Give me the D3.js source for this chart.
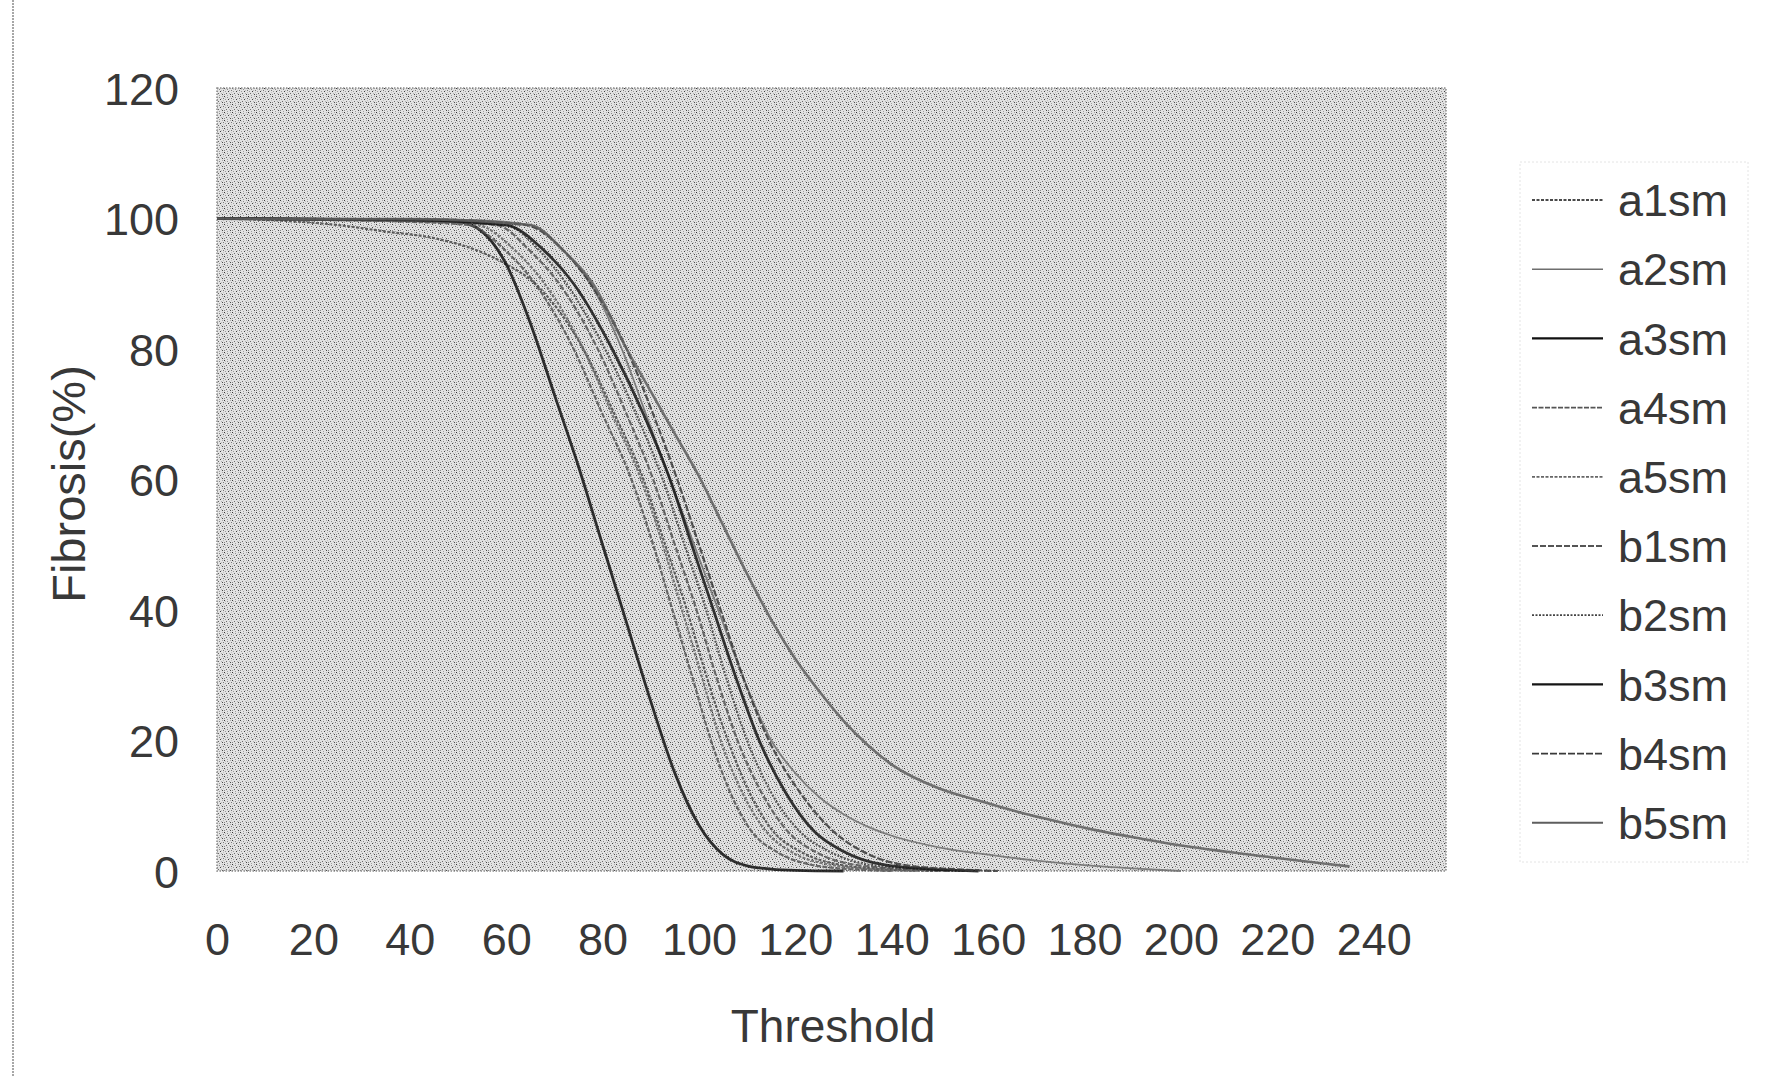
<!DOCTYPE html>
<html>
<head>
<meta charset="utf-8">
<script src="https://cdn.jsdelivr.net/npm/d3@7"></script>
<style>
  body { margin: 0; background: #fff; }
  svg { display: block; }
  text { font-family: "Liberation Sans", Arial, sans-serif; fill: #383838; }
</style>
</head>
<body>
<svg id="chart"></svg>
<script>
// data: [threshold, fibrosis %]
var a1sm = [[0,100],[15,99.6],[25,99],[35,98],[45,97],[55,94.8],[60,93],[66,90],[76,80],[82.5,70],[88.5,60],[93,50],[97.5,40],[101.5,30],[106,20],[110.5,12],[115.5,6],[121,3],[129,1],[140,0.2],[150,0]];
var a2sm = [[0,100],[40,99.9],[55,99.7],[65,99],[72,95],[77.5,90],[84,80],[89,70],[94,60],[99,50],[104,40],[109,30],[115,20],[120,15],[125,11.3],[130,8.7],[135,6.8],[140,5.4],[150,3.6],[160,2.5],[170,1.6],[180,0.9],[190,0.4],[200,0]];
var a3sm = [[0,100],[20,99.9],[40,99.7],[50,99.5],[55,98],[60,93],[65,84],[70,73],[75,62],[80,50],[85,38],[90,26],[95,15],[100,7],[105,2.5],[110,0.8],[115,0.3],[120,0.1],[130,0]];
var a4sm = [[0,100],[20,99.8],[40,99.5],[52,99],[60,95],[66,90],[74,80],[80,70],[86,60],[90.5,50],[94.5,40],[98.5,30],[102.5,20],[106.5,12],[111,6],[116,3],[123,1],[133,0.2],[140,0]];
var a5sm = [[0,100],[20,99.8],[40,99.6],[54,99],[62,95],[68,90],[76,80],[82,70],[88,60],[92.5,50],[96.5,40],[100.5,30],[104.5,20],[109,12],[114,6],[119,3],[127,1],[138,0.2],[145,0]];
var b1sm = [[0,100],[20,99.9],[40,99.7],[58,99],[65,95],[71,90],[79,80],[85,70],[90.5,60],[95,50],[99.5,40],[103.5,30],[108,20],[113,12],[118.5,6],[124,3],[132,1],[145,0.2],[152,0]];
var b2sm = [[0,100],[20,99.9],[40,99.8],[60,99],[67,95],[72.5,90],[80.5,80],[87,70],[92.5,60],[97,50],[101.5,40],[105.5,30],[110,20],[115,12],[121,6],[127,3],[135,1],[148,0.2],[155,0]];
var b3sm = [[0,100],[20,99.9],[40,99.8],[60,99],[68,95],[74,90],[82,80],[88.5,70],[94,60],[98.5,50],[103,40],[107.5,30],[112.5,20],[118,12],[124,6],[130,3],[138,1],[150,0.2],[158,0]];
var b4sm = [[0,100],[20,99.9],[40,99.9],[64,99],[72,95],[77.5,90],[85,80],[90.5,70],[95.5,60],[100,50],[104.5,40],[109,30],[114.5,20],[121,12],[128,6],[134,3],[142,1],[155,0.2],[162,0]];
var b5sm = [[0,100],[20,99.9],[40,99.9],[65,99],[72,95],[78,90],[85,80],[90,73.5],[95,67],[100,60.5],[105,53],[110,45.5],[115,38.5],[120,32.5],[125,27.5],[130,23],[135,19.3],[140,16.3],[150,12.6],[158,10.8],[165,9.3],[172,8],[182,6.3],[193,4.8],[200,3.9],[210,2.9],[220,2],[230,1.1],[235,0.7]];

var seriesNames = ["a1sm","a2sm","a3sm","a4sm","a5sm","b1sm","b2sm","b3sm","b4sm","b5sm"];
var seriesData  = [a1sm, a2sm, a3sm, a4sm, a5sm, b1sm, b2sm, b3sm, b4sm, b5sm];
var xTicks = [0,20,40,60,80,100,120,140,160,180,200,220,240];
var yTicks = [0,20,40,60,80,100,120];

// line looks (grey scan of a colour chart)
var strokes = ["#4a4a4a","#6e6e6e","#111","#555","#666","#555","#444","#151515","#3a3a3a","#5e5e5e"];
var widths  = [2.2, 1.8, 2.8, 2.2, 2.2, 2.2, 2.2, 2.8, 2.2, 2.6];
var dashes  = ["3,1.5", null, null, "5,1.5", "3,1.5", "6,2", "2,1.5", null, "7,2", null];

var W = 1772, H = 1076;
var plot = {left: 217, right: 1446, top: 88, bottom: 871};

var svg = d3.select("#chart").attr("width", W).attr("height", H);

// dithered plot background (scanned grey pattern)
var defs = svg.append("defs");
var pat = defs.append("pattern")
  .attr("id", "dither")
  .attr("width", 8).attr("height", 8)
  .attr("patternUnits", "userSpaceOnUse");
pat.append("rect").attr("width", 8).attr("height", 8).attr("fill", "#e2e2e2");
var dots = [[0,0,"#363636"],[3,1,"#8a8a8a"],[6,0,"#a8a8a8"],[1,3,"#9a9a9a"],[4,3,"#3e3e3e"],[7,2,"#777"],
            [2,5,"#6a6a6a"],[5,5,"#b0b0b0"],[0,6,"#888"],[6,6,"#4a4a4a"],[3,7,"#a0a0a0"],[7,4,"#c0c0c0"],[1,1,"#c4c4c4"],[5,2,"#bcbcbc"]];
pat.selectAll("rect.d").data(dots).enter().append("rect")
  .attr("class", "d")
  .attr("x", d => d[0]).attr("y", d => d[1])
  .attr("width", 1).attr("height", 1)
  .attr("fill", d => d[2]);

// page edge line on the left
svg.append("line")
  .attr("x1", 13).attr("x2", 13).attr("y1", 0).attr("y2", H)
  .attr("stroke", "#8a8a8a").attr("stroke-width", 1.5)
  .attr("stroke-dasharray", "2,1");

var xScale = d3.scaleLinear().domain([0, 255]).range([plot.left, plot.right]);
var yScale = d3.scaleLinear().domain([0, 120]).range([plot.bottom, plot.top]);

svg.append("rect")
  .attr("x", plot.left).attr("y", plot.top)
  .attr("width", plot.right - plot.left).attr("height", plot.bottom - plot.top)
  .attr("fill", "url(#dither)")
  .attr("stroke", "#8a8a8a").attr("stroke-width", 1.5)
  .attr("stroke-dasharray", "1.5,1.5");

// axes (labels only, no tick marks)
var xAxis = d3.axisBottom(xScale).tickValues(xTicks).tickSize(0).tickPadding(0);
var gx = svg.append("g")
  .attr("transform", "translate(0," + plot.bottom + ")")
  .call(xAxis);
gx.select(".domain").remove();
gx.selectAll("text")
  .attr("y", 84).attr("dy", 0)
  .style("font-size", "45px");

var yAxis = d3.axisLeft(yScale).tickValues(yTicks).tickSize(0).tickPadding(0);
var gy = svg.append("g")
  .attr("transform", "translate(179,0)")
  .call(yAxis);
gy.select(".domain").remove();
gy.selectAll("text")
  .attr("x", 0).attr("dy", "0.36em")
  .style("font-size", "45px");

svg.selectAll(".tick text").style("fill", "#383838").style("font-family", "'Liberation Sans', Arial, sans-serif");

// axis titles
svg.append("text")
  .attr("transform", "translate(68,484) rotate(-90)")
  .attr("text-anchor", "middle")
  .attr("dy", "0.36em")
  .style("font-size", "47px")
  .text("Fibrosis(%)");

svg.append("text")
  .attr("x", 833).attr("y", 1025)
  .attr("text-anchor", "middle")
  .attr("dy", "0.36em")
  .style("font-size", "46px")
  .text("Threshold");

// curves
var line = d3.line()
  .x(d => xScale(d[0]))
  .y(d => yScale(d[1]))
  .curve(d3.curveMonotoneX);

var g = svg.append("g");
seriesData.forEach(function(data, i) {
  g.append("path")
    .attr("fill", "none")
    .attr("stroke", strokes[i])
    .attr("stroke-width", widths[i])
    .attr("stroke-dasharray", dashes[i])
    .attr("stroke-opacity", 0.85)
    .attr("d", line(data));
});

// legend (faint scanned border)
svg.append("rect")
  .attr("x", 1520).attr("y", 162).attr("width", 228).attr("height", 700)
  .attr("fill", "none")
  .attr("stroke", "#e4e4e4").attr("stroke-width", 1)
  .attr("stroke-dasharray", "2,2");

var legend = svg.selectAll(".legend")
  .data(seriesNames)
  .enter()
  .append("g")
  .attr("class", "legend")
  .attr("transform", (d, i) => "translate(0," + (200 + i * 69.2) + ")");

legend.append("line")
  .attr("x1", 1532).attr("x2", 1603)
  .attr("stroke", (d, i) => strokes[i])
  .attr("stroke-width", (d, i) => widths[i] * 0.8)
  .attr("stroke-dasharray", (d, i) => dashes[i]);

legend.append("text")
  .attr("x", 1618)
  .attr("dy", "0.36em")
  .style("font-size", "45px")
  .text(d => d);
</script>
</body>
</html>
